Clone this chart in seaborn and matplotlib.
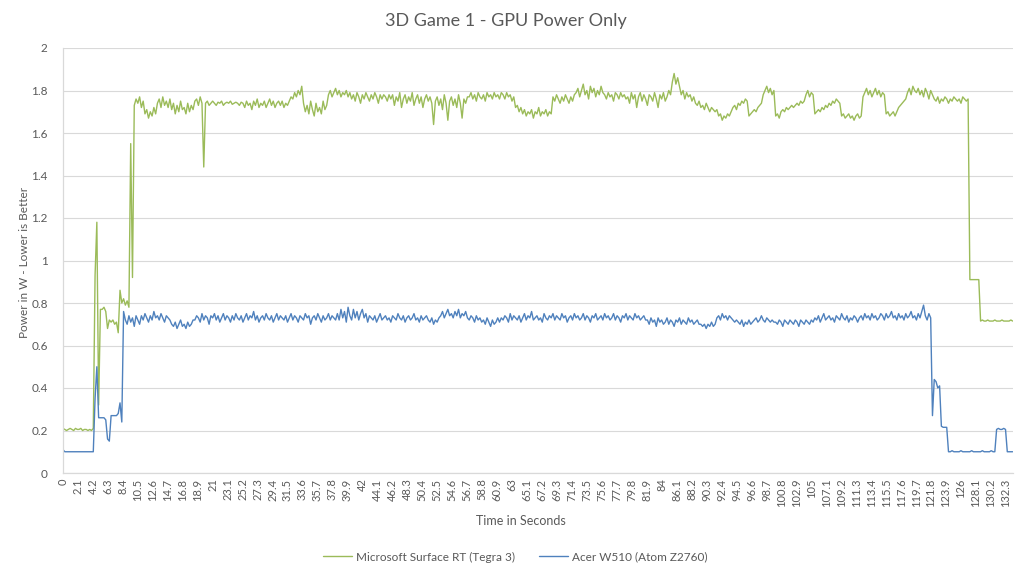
import numpy as np
import pandas as pd
import matplotlib
matplotlib.use("Agg")
import matplotlib.pyplot as plt
from matplotlib.lines import Line2D
import seaborn as sns

# sampling interval of the read-off values (seconds)
SAMPLE_STEP = 0.25

# Microsoft Surface RT (Tegra 3), GPU power in W, one value every 0.25 s from t=0
surface_rt = [
    # 0 - 4.0
    0.21, 0.205, 0.20, 0.205, 0.21, 0.205, 0.20, 0.21, 0.205, 0.205, 0.21, 0.20, 0.205, 0.205, 0.20, 0.205, 0.20,
    # 4.25 - 9.75
    0.21, 0.93, 1.18, 0.32, 0.77, 0.77, 0.78, 0.76, 0.68, 0.72, 0.71, 0.72, 0.70, 0.71, 0.66, 0.86, 0.80, 0.82, 0.79, 0.81, 0.78, 1.55, 0.92,
    # 10.0 - 11.25
    1.73, 1.76, 1.74, 1.77, 1.72, 1.75,
    # 11.5 - 13.0
    1.69, 1.71, 1.67, 1.70, 1.68, 1.72, 1.69,
    # 13.25 - 15.0
    1.74, 1.76, 1.72, 1.77, 1.73, 1.75, 1.72, 1.76,
    # 15.25 - 18.5
    1.71, 1.74, 1.69, 1.73, 1.70, 1.75, 1.71, 1.72, 1.69, 1.74, 1.70, 1.73, 1.71, 1.75,
    # 18.75 - 19.75
    1.76, 1.73, 1.77, 1.74, 1.44,
    # 20.0 - 25.0
    1.74, 1.75, 1.73, 1.74, 1.75, 1.74, 1.73, 1.745, 1.74, 1.75, 1.73, 1.74, 1.745, 1.74, 1.75, 1.735, 1.74, 1.745, 1.74, 1.73, 1.745,
    # 25.25 - 30.25
    1.74, 1.72, 1.75, 1.73, 1.74, 1.71, 1.75, 1.73, 1.76, 1.72, 1.74, 1.73, 1.75, 1.72, 1.74, 1.76, 1.73, 1.75, 1.72, 1.74, 1.75,
    # 30.5 - 31.5
    1.73, 1.75, 1.72, 1.74, 1.73,
    # 31.75 - 33.5
    1.75, 1.77, 1.76, 1.79, 1.77, 1.80, 1.78, 1.82,
    # 33.75 - 37.0
    1.74, 1.70, 1.73, 1.69, 1.75, 1.71, 1.68, 1.74, 1.70, 1.72, 1.69, 1.75, 1.71, 1.73,
    # 37.25 - 39.75
    1.78, 1.80, 1.77, 1.79, 1.81, 1.78, 1.80, 1.77, 1.79, 1.78, 1.80,
    # 40.0 - 45.75
    1.77, 1.79, 1.76, 1.78, 1.75, 1.79, 1.77, 1.74, 1.78, 1.76, 1.79, 1.77, 1.75, 1.78, 1.76, 1.79, 1.77, 1.74, 1.78, 1.76, 1.78, 1.77, 1.75, 1.78,
    # 46.0 - 52.0
    1.76, 1.78, 1.73, 1.77, 1.75, 1.79, 1.72, 1.76, 1.78, 1.74, 1.77, 1.75, 1.79, 1.73, 1.76, 1.78, 1.74, 1.77, 1.72, 1.76, 1.78, 1.75, 1.77, 1.74, 1.64,
    # 52.25 - 56.75
    1.75, 1.77, 1.73, 1.76, 1.71, 1.78, 1.74, 1.66, 1.75, 1.77, 1.73, 1.76, 1.72, 1.78, 1.74, 1.67, 1.76, 1.74, 1.77,
    # 57.0 - 63.25
    1.77, 1.79, 1.76, 1.78, 1.75, 1.79, 1.77, 1.76, 1.78, 1.75, 1.79, 1.77, 1.78, 1.76, 1.79, 1.77, 1.78, 1.76, 1.79, 1.78, 1.76, 1.79, 1.77, 1.78, 1.75, 1.77,
    # 63.5 - 68.5
    1.72, 1.73, 1.70, 1.72, 1.69, 1.71, 1.68, 1.70, 1.69, 1.71, 1.67, 1.70, 1.69, 1.72, 1.68, 1.70, 1.69, 1.71, 1.68, 1.70, 1.69,
    # 68.75 - 71.75
    1.77, 1.75, 1.78, 1.76, 1.74, 1.77, 1.75, 1.78, 1.76, 1.74, 1.77, 1.75, 1.78,
    # 72.0 - 75.75
    1.79, 1.81, 1.77, 1.80, 1.83, 1.78, 1.80, 1.76, 1.82, 1.79, 1.81, 1.77, 1.80, 1.78, 1.82, 1.79,
    # 76.0 - 79.0
    1.78, 1.76, 1.79, 1.77, 1.78, 1.75, 1.79, 1.78, 1.76, 1.79, 1.77, 1.78, 1.76,
    # 79.25 - 85.25
    1.77, 1.74, 1.79, 1.76, 1.78, 1.72, 1.77, 1.79, 1.75, 1.78, 1.76, 1.73, 1.78, 1.77, 1.75, 1.79, 1.76, 1.72, 1.78, 1.76, 1.79, 1.75, 1.77, 1.80, 1.78,
    # 85.5 - 86.5
    1.84, 1.88, 1.83, 1.86, 1.82,
    # 86.75 - 88.5
    1.78, 1.80, 1.76, 1.79, 1.77, 1.78, 1.75, 1.77,
    # 88.75 - 91.75
    1.74, 1.73, 1.75, 1.72, 1.73, 1.71, 1.74, 1.72, 1.70, 1.72, 1.71, 1.70, 1.71,
    # 92.0 - 93.75
    1.68, 1.69, 1.66, 1.68, 1.67, 1.69, 1.68, 1.70,
    # 94.0 - 96.0
    1.72, 1.73, 1.71, 1.74, 1.73, 1.75, 1.74, 1.76, 1.75,
    # 96.25 - 98.0
    1.68, 1.69, 1.70, 1.71, 1.70, 1.72, 1.73, 1.74,
    # 98.25 - 99.75
    1.78, 1.80, 1.82, 1.79, 1.81, 1.78, 1.80,
    # 100.0 - 100.5
    1.68, 1.69, 1.67,
    # 100.75 - 104.0
    1.70, 1.71, 1.70, 1.72, 1.71, 1.72, 1.73, 1.72, 1.73, 1.74, 1.73, 1.75, 1.74, 1.75,
    # 104.25 - 105.25
    1.78, 1.80, 1.77, 1.79, 1.78,
    # 105.5 - 109.0
    1.69, 1.70, 1.71, 1.70, 1.72, 1.71, 1.73, 1.72, 1.74, 1.73, 1.75, 1.74, 1.76, 1.75, 1.74,
    # 109.25 - 112.0
    1.68, 1.69, 1.67, 1.68, 1.69, 1.67, 1.68, 1.66, 1.68, 1.69, 1.67, 1.68,
    # 112.25 - 115.25
    1.77, 1.79, 1.81, 1.78, 1.80, 1.77, 1.79, 1.81, 1.78, 1.80, 1.77, 1.79, 1.78,
    # 115.5 - 117.0
    1.69, 1.70, 1.68, 1.69, 1.70, 1.68, 1.70,
    # 117.25 - 118.25
    1.72, 1.73, 1.74, 1.75, 1.76,
    # 118.5 - 122.0
    1.79, 1.81, 1.78, 1.82, 1.80, 1.79, 1.81, 1.78, 1.80, 1.77, 1.81, 1.79, 1.76, 1.80, 1.78,
    # 122.25 - 127.0
    1.76, 1.75, 1.77, 1.74, 1.76, 1.75, 1.77, 1.76, 1.74, 1.76, 1.75, 1.77, 1.76, 1.75, 1.76, 1.74, 1.77, 1.76, 1.75, 1.76,
    # 127.25 - 128.5
    0.91, 0.91, 0.91, 0.91, 0.91, 0.91,
    # 128.75 - 133.25
    0.715, 0.72, 0.715, 0.715, 0.72, 0.715, 0.715, 0.715, 0.72, 0.715, 0.715, 0.715, 0.72, 0.715, 0.715, 0.715, 0.715, 0.72, 0.715,
]

# Acer W510 (Atom Z2760), GPU power in W, one value every 0.25 s from t=0
acer_w510 = [
    # 0 - 4.0
    0.11, 0.10, 0.10, 0.10, 0.10, 0.10, 0.10, 0.10, 0.10, 0.10, 0.10, 0.10, 0.10, 0.10, 0.10, 0.10, 0.10,
    # 4.25 - 8.5
    0.10, 0.35, 0.50, 0.26, 0.26, 0.26, 0.26, 0.25, 0.16, 0.15, 0.27, 0.27, 0.27, 0.27, 0.28, 0.33, 0.24, 0.76,
    # 8.75 - 10.75
    0.72, 0.70, 0.74, 0.71, 0.73, 0.69, 0.74, 0.72, 0.70,
    # 11.0 - 15.0
    0.74, 0.72, 0.75, 0.73, 0.71, 0.74, 0.72, 0.76, 0.73, 0.74, 0.72, 0.75, 0.73, 0.71, 0.74, 0.73, 0.72,
    # 15.25 - 18.25
    0.70, 0.69, 0.71, 0.68, 0.70, 0.72, 0.69, 0.70, 0.68, 0.71, 0.69, 0.70, 0.72,
    # 18.5 - 38.25
    0.72, 0.74, 0.73, 0.71, 0.75, 0.72, 0.74, 0.73, 0.70, 0.74,
    0.73, 0.75, 0.72, 0.74, 0.71, 0.73, 0.75, 0.72, 0.74, 0.73,
    0.71, 0.74, 0.72, 0.75, 0.73, 0.72, 0.74, 0.71, 0.73, 0.75,
    0.72, 0.74, 0.73, 0.76, 0.72, 0.74, 0.71, 0.73, 0.74, 0.72,
    0.75, 0.73, 0.72, 0.74, 0.71, 0.73, 0.75, 0.72, 0.74, 0.73,
    0.72, 0.74, 0.71, 0.73, 0.75, 0.72, 0.74, 0.73, 0.71, 0.74,
    0.73, 0.72, 0.75, 0.73, 0.74, 0.70, 0.73, 0.74, 0.72, 0.75,
    0.73, 0.71, 0.74, 0.72, 0.73, 0.75, 0.72, 0.74, 0.73, 0.72,
    # 38.5 - 43.0
    0.75, 0.72, 0.77, 0.73, 0.76, 0.71, 0.78, 0.74, 0.72, 0.77, 0.73, 0.76, 0.72, 0.75, 0.77, 0.73, 0.75, 0.71, 0.74,
    # 43.25 - 51.0
    0.73, 0.72, 0.74, 0.71, 0.73, 0.75, 0.72, 0.73, 0.74, 0.72,
    0.73, 0.71, 0.74, 0.73, 0.72, 0.75, 0.73, 0.72, 0.74, 0.71,
    0.73, 0.74, 0.72, 0.73, 0.75, 0.72, 0.73, 0.71, 0.74, 0.72,
    0.73, 0.74,
    # 51.25 - 52.75
    0.72, 0.71, 0.73, 0.70, 0.72, 0.71, 0.73,
    # 53.0 - 56.5
    0.74, 0.76, 0.73, 0.75, 0.77, 0.74, 0.75, 0.73, 0.76, 0.74, 0.77, 0.73, 0.75, 0.74, 0.76,
    # 56.75 - 58.5
    0.73, 0.72, 0.74, 0.73, 0.71, 0.74, 0.72, 0.73,
    # 58.75 - 61.25
    0.71, 0.72, 0.70, 0.73, 0.71, 0.69, 0.72, 0.70, 0.71, 0.73, 0.71,
    # 61.5 - 81.75
    0.73, 0.72, 0.74, 0.73, 0.71, 0.75, 0.72, 0.74, 0.73, 0.72,
    0.74, 0.71, 0.73, 0.75, 0.72, 0.74, 0.73, 0.76, 0.72, 0.73,
    0.74, 0.72, 0.73, 0.71, 0.75, 0.73, 0.72, 0.74, 0.73, 0.75,
    0.72, 0.74, 0.73, 0.72, 0.75, 0.73, 0.74, 0.71, 0.73, 0.74,
    0.72, 0.75, 0.73, 0.74, 0.72, 0.73, 0.75, 0.72, 0.74, 0.73,
    0.71, 0.74, 0.73, 0.75, 0.72, 0.73, 0.74, 0.72, 0.75, 0.73,
    0.74, 0.72, 0.73, 0.75, 0.72, 0.74, 0.73, 0.71, 0.74, 0.73,
    0.75, 0.72, 0.74, 0.73, 0.72, 0.75, 0.73, 0.74, 0.72, 0.73,
    0.74, 0.72,
    # 82.0 - 89.25
    0.72, 0.70, 0.73, 0.71, 0.72, 0.69, 0.73, 0.71, 0.72, 0.70,
    0.71, 0.73, 0.70, 0.72, 0.71, 0.69, 0.72, 0.71, 0.73, 0.70,
    0.72, 0.71, 0.70, 0.73, 0.71, 0.72, 0.70, 0.71, 0.72, 0.70,
    # 89.5 - 91.5
    0.70, 0.69, 0.70, 0.68, 0.70, 0.69, 0.71, 0.69, 0.70,
    # 91.75 - 93.75
    0.73, 0.74, 0.72, 0.75, 0.73, 0.74, 0.72, 0.74, 0.73,
    # 94.0 - 94.5
    0.72, 0.71, 0.72,
    # 94.75 - 96.75
    0.71, 0.70, 0.72, 0.69, 0.71, 0.70, 0.72, 0.70, 0.71,
    # 97.0 - 99.75
    0.72, 0.73, 0.71, 0.72, 0.74, 0.72, 0.71, 0.73, 0.72, 0.71, 0.72, 0.71,
    # 100.0 - 105.25
    0.71, 0.70, 0.72, 0.71, 0.69, 0.72, 0.71, 0.70, 0.72, 0.71,
    0.70, 0.72, 0.71, 0.69, 0.72, 0.71, 0.70, 0.72, 0.71, 0.70,
    0.72, 0.71,
    # 105.5 - 111.75
    0.73, 0.72, 0.74, 0.71, 0.73, 0.75, 0.72, 0.73, 0.74, 0.72,
    0.73, 0.71, 0.74, 0.73, 0.72, 0.75, 0.73, 0.72, 0.74, 0.71,
    0.73, 0.72, 0.74, 0.73, 0.71, 0.73,
    # 112.0 - 121.75
    0.74, 0.72, 0.75, 0.73, 0.74, 0.72, 0.75, 0.73, 0.74, 0.72,
    0.73, 0.75, 0.74, 0.72, 0.75, 0.73, 0.74, 0.76, 0.73, 0.74,
    0.72, 0.75, 0.73, 0.74, 0.72, 0.75, 0.73, 0.74, 0.76, 0.73,
    0.74, 0.72, 0.75, 0.73, 0.76, 0.79, 0.74, 0.72, 0.75, 0.73,
    # 122.0 - 124.0
    0.27, 0.44, 0.43, 0.40, 0.41, 0.22, 0.215, 0.215, 0.215,
    # 124.25 - 130.75
    0.10, 0.10, 0.105, 0.10, 0.10, 0.10, 0.10, 0.105, 0.10, 0.10,
    0.10, 0.10, 0.10, 0.105, 0.10, 0.10, 0.10, 0.10, 0.10, 0.105,
    0.10, 0.10, 0.10, 0.10, 0.105, 0.10, 0.10,
    # 131.0 - 132.25
    0.205, 0.21, 0.205, 0.205, 0.21, 0.205,
    # 132.5 - 133.25
    0.10, 0.10, 0.10, 0.10,
]

series_names = ["Microsoft Surface RT (Tegra 3)", "Acer W510 (Atom Z2760)"]
series_colors = ["#9BBB59", "#4F81BD"]

x_tick_labels = ["0", "2.1", "4.2", "6.3", "8.4", "10.5", "12.6", "14.7", "16.8", "18.9",
                 "21", "23.1", "25.2", "27.3", "29.4", "31.5", "33.6", "35.7", "37.8", "39.9",
                 "42", "44.1", "46.2", "48.3", "50.4", "52.5", "54.6", "56.7", "58.8", "60.9",
                 "63", "65.1", "67.2", "69.3", "71.4", "73.5", "75.6", "77.7", "79.8", "81.9",
                 "84", "86.1", "88.2", "90.3", "92.4", "94.5", "96.6", "98.7", "100.8", "102.9",
                 "105", "107.1", "109.2", "111.3", "113.4", "115.5", "117.6", "119.7", "121.8", "123.9",
                 "126", "128.1", "130.2", "132.3"]
x_major_marks = [25, 50, 75, 100, 125]
y_ticks = [0, 0.2, 0.4, 0.6, 0.8, 1.0, 1.2, 1.4, 1.6, 1.8, 2.0]
y_tick_labels = ["0", "0.2", "0.4", "0.6", "0.8", "1", "1.2", "1.4", "1.6", "1.8", "2"]

title = "3D Game 1 - GPU Power Only"
x_label = "Time in Seconds"
y_label = "Power in W - Lower is Better"

sns.set_theme(style="white")
plt.rcParams['font.family'] = ['Lato', 'DejaVu Sans']
TXT = "#595959"
GRID = "#D9D9D9"

frames = []
for name, vals in zip(series_names, [surface_rt, acer_w510]):
    t = np.arange(len(vals)) * SAMPLE_STEP
    frames.append(pd.DataFrame({"Time": t, "Power": vals, "Series": name}))
df = pd.concat(frames, ignore_index=True)

fig = plt.figure(figsize=(10.26, 5.76), dpi=100)
ax = fig.add_axes([63 / 1026, 103 / 576, 950 / 1026, 425 / 576])

sns.lineplot(data=df, x="Time", y="Power", hue="Series", hue_order=series_names,
             palette=dict(zip(series_names, series_colors)), estimator=None, sort=False,
             linewidth=1.0, ax=ax, legend=False)

ax.set_xlim(0, 133.3)
ax.set_ylim(0, 2)
ax.set_yticks(y_ticks)
ax.set_yticklabels(y_tick_labels, color=TXT, fontsize=8.5)
ax.set_xticks([float(s) for s in x_tick_labels])
ax.set_xticklabels(x_tick_labels, rotation=90, color=TXT, fontsize=8)
ax.set_xticks(x_major_marks, minor=True)
ax.tick_params(axis="x", which="major", length=0, pad=4)
ax.tick_params(axis="x", which="minor", length=3, direction="in", color="#BFBFBF", width=0.8)
ax.tick_params(axis="y", length=0, pad=11)
ax.set_xlabel("")
ax.set_ylabel("")

ax.grid(axis="y", color=GRID, linewidth=0.8)
ax.grid(axis="x", visible=False)
ax.set_axisbelow(True)
for side in ["top", "right"]:
    ax.spines[side].set_visible(False)
for side in ["left", "bottom"]:
    ax.spines[side].set_color(GRID)
    ax.spines[side].set_linewidth(0.9)

fig.text(0.493, 0.963, title, ha="center", va="center", fontsize=13, color=TXT)
fig.text(0.508, 0.095, x_label, ha="center", va="center", fontsize=9, color=TXT)
fig.text(0.0235, 0.545, y_label, ha="center", va="center", rotation=90, fontsize=8.5, color=TXT)

handles = [Line2D([0], [0], color=c, linewidth=1.0) for c in series_colors]
fig.legend(handles, series_names, loc="center", bbox_to_anchor=(0.502, 0.033), ncol=2,
           frameon=False, fontsize=8.5, labelcolor=TXT, handlelength=2.5,
           handletextpad=0.3, columnspacing=2.0)

fig.savefig("out.png", dpi=100)
